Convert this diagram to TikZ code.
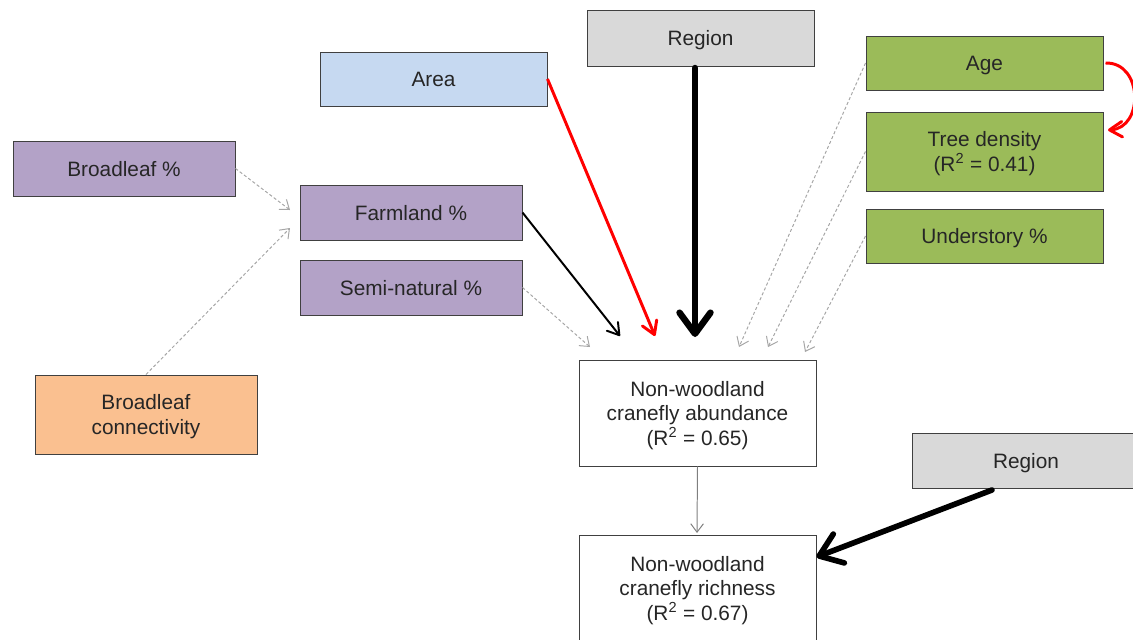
\documentclass[tikz,border=0pt]{standalone}
\usepackage{fontspec}
\setmainfont{Liberation Sans}
\usetikzlibrary{arrows.meta}
\definecolor{txt}{HTML}{262626}
\definecolor{bord}{HTML}{404040}
\definecolor{greyfill}{HTML}{D9D9D9}
\definecolor{bluefill}{HTML}{C6D9F1}
\definecolor{greenfill}{HTML}{9BBB59}
\definecolor{purplefill}{HTML}{B3A2C7}
\definecolor{orangefill}{HTML}{FAC090}
\definecolor{dashgrey}{HTML}{A6A6A6}
\definecolor{thingrey}{HTML}{7F7F7F}
\definecolor{redarrow}{HTML}{FF0000}
\begin{document}
\begin{tikzpicture}[x=0.025cm,y=-0.025cm,
  box/.style={draw=bord, line width=0.7pt, inner sep=0pt, align=center,
    text=txt, text depth=0pt, font=\fontsize{14.8}{17.4}\selectfont},
  wbox/.style={box, minimum width=227*0.025cm, minimum height=55*0.025cm},
  gbox/.style={box, fill=greenfill, minimum width=237*0.025cm},
  pbox/.style={box, fill=purplefill, minimum width=222*0.025cm, minimum height=55*0.025cm},
  dashline/.style={draw=dashgrey, line width=0.7pt, dash pattern=on 2.2pt off 1.6pt,
    -{Straight Barb[length=6pt,width=9pt,line width=0.7pt]}},
  thickarrow/.style={draw=black, line width=4.6pt, line cap=round,
    -{Straight Barb[length=15pt,width=22pt,round]}},
  redline/.style={draw=redarrow, line width=2.1pt,
    -{Straight Barb[length=9pt,width=11pt,round]}},
  blackline/.style={draw=black, line width=1.4pt,
    -{Straight Barb[length=8pt,width=10pt,round]}},
]
\useasboundingbox (0,0) rectangle (1133,639);

\node[wbox, fill=greyfill, minimum height=56*0.025cm] (region) at (700.5,38) {Region};
\node[wbox, fill=bluefill, minimum height=54*0.025cm] (area) at (433.5,79) {Area};
\node[gbox, minimum height=54*0.025cm] (age) at (984.5,63) {Age};
\node[gbox, minimum height=79*0.025cm] (tree) at (984.5,151.5) {Tree density\\(R\textsuperscript{2} = 0.41)};
\node[gbox, minimum height=54*0.025cm] (under) at (984.5,236) {Understory \%};
\node[pbox] (broad) at (124,168.5) {Broadleaf \%};
\node[pbox] (farm) at (411,212.5) {Farmland \%};
\node[pbox] (semi) at (411,287.5) {Semi-natural \%};
\node[box, fill=orangefill, minimum width=222*0.025cm, minimum height=79*0.025cm] (conn) at (146,414.5) {Broadleaf\\connectivity};
\node[box, fill=white, minimum width=237*0.025cm, minimum height=106*0.025cm] (abund) at (697.5,413) {Non-woodland\\cranefly abundance\\(R\textsuperscript{2} = 0.65)};
\node[wbox, fill=greyfill] (regionr) at (1026,460.5) {Region};
\node[box, fill=white, minimum width=237*0.025cm, minimum height=106*0.025cm] (rich) at (697.5,588) {Non-woodland\\cranefly richness\\(R\textsuperscript{2} = 0.67)};

% free ends
\coordinate (eRegion) at (695,337);
\coordinate (eArea) at (655,336);
\coordinate (eFarm) at (620,336);
\coordinate (eSemi) at (590,347);
\coordinate (eAge) at (739,347);
\coordinate (eTree) at (768,347);
\coordinate (eUnder) at (805,352);
\coordinate (eBroad) at (290,210);
\coordinate (eConn) at (290,228);
\coordinate (sRegionR) at (992,490);
\coordinate (sRegion) at (695,68);
\coordinate (eRich) at (697,533);

\draw[thickarrow] (sRegion) -- (eRegion);
\draw[redline] (area.east) -- (eArea);
\draw[blackline] (farm.east) -- (eFarm);
\draw[dashline] (semi.east) -- (eSemi);
\draw[dashline] (age.west) -- (eAge);
\draw[dashline] (tree.west) -- (eTree);
\draw[dashline] (under.west) -- (eUnder);
\draw[dashline] (broad.east) -- (eBroad);
\draw[dashline] (conn.north) -- (eConn);
\draw[draw=thingrey, line width=0.7pt, -{Straight Barb[length=6pt,width=9pt,line width=0.7pt]}] (abund.south) -- (eRich);
\draw[thickarrow, line width=4pt] (sRegionR) -- (rich.east |- 0,557);
\draw[redline] ([xshift=2*0.025cm]age.east) .. controls (1143,62) and (1144,128) .. (1108,130);
\end{tikzpicture}
\end{document}
